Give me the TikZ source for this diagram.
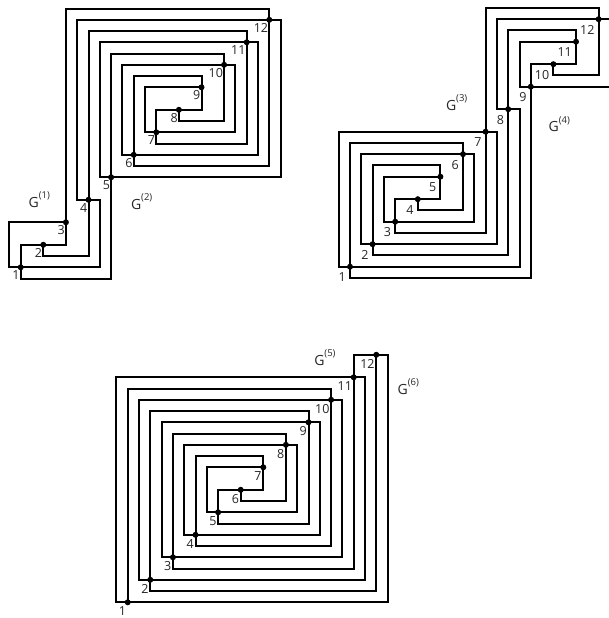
\documentclass[tikz,border=0pt]{standalone}
\usepackage{fontspec}
\setmainfont{Open Sans}
\newcommand\eL[3]{\draw[edge] (#1#2.center) -- ++(-1,0) |- (#1#3.center);}
\newcommand\eR[3]{\draw[edge] (#1#3.center) -- ++(1,0) |- (#1#2.center);}
\newcommand\eD[3]{\draw[edge] (#1#2.center) -- ++(0,-1) -| (#1#3.center);}
\newcommand\eU[3]{\draw[edge] (#1#3.center) -- ++(0,1) -| (#1#2.center);}
\newcommand\eUL[3]{\draw[edge] (#1#2.center) |- (#1#3.center);}
\newcommand\eRD[3]{\draw[edge] (#1#2.center) -| (#1#3.center);}
\newcommand\gsup[1]{G\raisebox{8.5pt}{\fontsize{9.5}{10}\selectfont(#1)}}
\begin{document}
\begin{tikzpicture}[
  x=1pt,y=1pt,
  vtx/.style={circle,fill=black,inner sep=0pt,minimum size=6pt},
  edge/.style={draw=black,line width=2pt},
  lbl/.style={anchor=base east,inner sep=0pt,text=black!85,font=\fontsize{12.5}{14}\selectfont},
  glbl/.style={anchor=base west,inner sep=0pt,text=black!85,font=\fontsize{14}{16}\selectfont},
]
\useasboundingbox (0,0) rectangle (608,-618);

% ---------- picture 1 ----------
\begin{scope}[shift={(20.7pt,-267.3pt)},x=11.3pt,y=11.25pt]
\foreach \i in {1,...,12} \node[vtx] (a\i) at ({2*(\i-1)},{2*(\i-1)}) {};
\foreach \i in {1,...,12} \node[lbl] (la\i) at ([xshift=-1pt,yshift=-12.5pt]a\i.center) {\i};
\foreach \p/\q in {1/2,7/8} {\eUL{a}{\p}{\q}}
\foreach \p/\q in {2/3,8/9} {\eRD{a}{\p}{\q}}
\foreach \p/\q in {1/3,4/12,5/11,6/10,7/9} {\eL{a}{\p}{\q}}
\foreach \p/\q in {1/4,5/12,6/11,7/10} {\eR{a}{\p}{\q}}
\foreach \p/\q in {1/5,2/4,6/12,7/11,8/10} {\eD{a}{\p}{\q}}
\foreach \p/\q in {3/12,4/11,5/10,6/9} {\eU{a}{\p}{\q}}
\end{scope}

% ---------- picture 2 ----------
\begin{scope}[shift={(350pt,-266.7pt)},x=11.3pt,y=11.25pt]
\foreach \i in {1,...,12} \node[vtx] (b\i) at ({2*(\i-1)},{2*(\i-1)}) {};
\foreach \i in {1,...,12} \node[lbl] (lb\i) at ([xshift=-4pt,yshift=-15pt]b\i.center) {\i};
\foreach \p/\q in {3/4,9/10} {\eUL{b}{\p}{\q}}
\foreach \p/\q in {4/5,10/11} {\eRD{b}{\p}{\q}}
\foreach \p/\q in {1/7,2/6,3/5,8/12,9/11} {\eL{b}{\p}{\q}}
\foreach \p/\q in {1/8,2/7,3/6,9/12} {\eR{b}{\p}{\q}}
\foreach \p/\q in {1/9,2/8,3/7,4/6,10/12} {\eD{b}{\p}{\q}}
\foreach \p/\q in {1/6,2/5,7/12,8/11} {\eU{b}{\p}{\q}}
\end{scope}

% ---------- picture 3 ----------
\begin{scope}[shift={(127.7pt,-602.3pt)},x=11.3pt,y=11.25pt]
\foreach \i in {1,...,12} \node[vtx] (c\i) at ({2*(\i-1)},{2*(\i-1)}) {};
\foreach \i in {1,...,12} \node[lbl] (lc\i) at ([xshift=-1.5pt,yshift=-13.4pt]c\i.center) {\i};
\foreach \p/\q in {5/6,11/12} {\eUL{c}{\p}{\q}}
\foreach \p/\q in {6/7} {\eRD{c}{\p}{\q}}
\foreach \p/\q in {1/11,2/10,3/9,4/8,5/7} {\eL{c}{\p}{\q}}
\foreach \p/\q in {1/12,2/11,3/10,4/9,5/8} {\eR{c}{\p}{\q}}
\foreach \p/\q in {2/12,3/11,4/10,5/9,6/8} {\eD{c}{\p}{\q}}
\foreach \p/\q in {1/10,2/9,3/8,4/7} {\eU{c}{\p}{\q}}
\end{scope}

% ---------- region labels ----------
\node[glbl] (g1) at (28.5,-207.3) {\gsup{1}};
\node[glbl] (g2) at (130.8,-209) {\gsup{2}};
\node[glbl] (g3) at (445.8,-110) {\gsup{3}};
\node[glbl] (g4) at (548.4,-131.7) {\gsup{4}};
\node[glbl] (g5) at (314.1,-365) {\gsup{5}};
\node[glbl] (g6) at (397.4,-394) {\gsup{6}};
\end{tikzpicture}
\end{document}
